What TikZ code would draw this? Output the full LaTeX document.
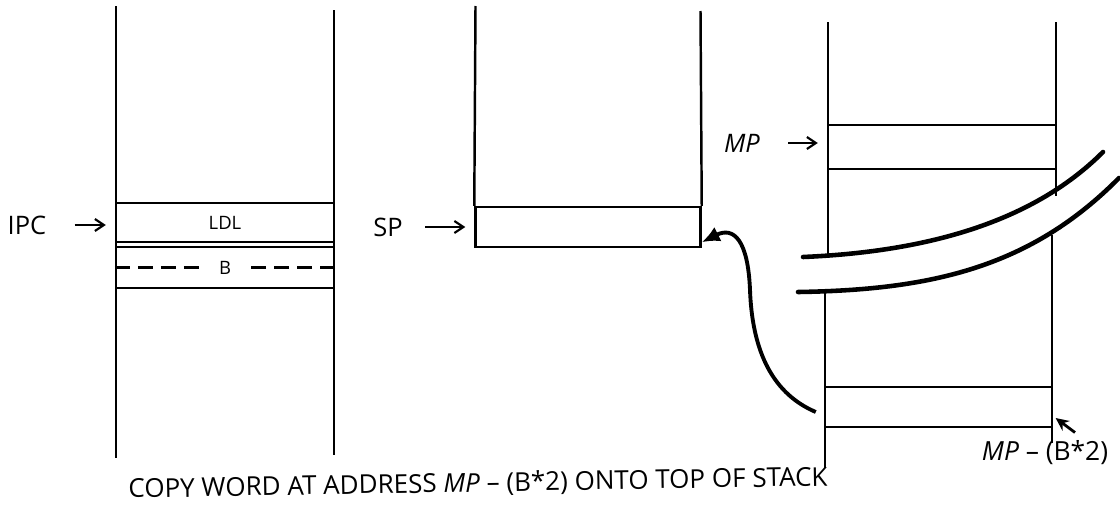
\documentclass[tikz,border=0pt]{standalone}
\usepackage{fontspec}
\setmainfont{Open Sans}
\usetikzlibrary{arrows.meta, positioning}

\begin{document}
\begin{tikzpicture}[
                x=0.2mm, y=-0.2mm,
                wall/.style={line width=1.4pt},
                cell/.style={rectangle, draw, line width=1.4pt, inner sep=0pt, font=\fontsize{10.5}{12}\selectfont},
                tag/.style={inner sep=0pt, font=\fontsize{14.5}{17}\selectfont},
                ptr/.style={line width=1.2pt, -{Straight Barb[length=1.8mm, width=2.4mm]}, shorten >=1.8mm},
                dashline/.style={line width=1.6pt, dash pattern=on 3mm off 1.6mm},
                brk/.style={line width=2.6pt, line cap=round},
                bigarrow/.style={line width=2.2pt, -{Latex[length=3.6mm, width=3.2mm]}}
            ]
                \useasboundingbox (0,0) rectangle (1120,513);

                % first column
                \draw [wall] (116,6) -- (116,458);
                \draw [wall] (334,10) -- (334,455);
                \node (ldl) [cell, minimum width=43.6mm, minimum height=7.8mm] at (225,222.5) {LDL};
                \node (bcell) [cell, minimum width=43.6mm, minimum height=8.2mm] at (225,267.5) {};
                \node (b) [cell, draw=none, inner xsep=3.2mm] at (bcell) {B};
                \draw [dashline] (bcell.west) -- (b.west);
                \draw [dashline] (bcell.east) -- (b.east);
                \node (ipc) [tag] at (27,225) {IPC};
                \draw [ptr, shorten <=5.6mm] (ipc.east) -- (ipc.east -| ldl.west);

                % second column
                \node (sp) [cell, minimum width=45mm, minimum height=8mm] at (588,227) {};
                \draw [wall] (475.5,6) -- (sp.north west);
                \draw [wall] (700.5,11) -- (sp.north east);
                \node (splbl) [tag] at (388,227) {SP};
                \draw [ptr, shorten <=4.4mm] (splbl.east) -- (splbl.east -| sp.west);

                % third column, broken
                \draw [wall] (828,22) -- (828,256);
                \draw [wall] (825,291) -- (825,468);
                \draw [wall] (1056,22) -- (1056,196);
                \draw [wall] (1052,235) -- (1052,443);
                \draw [brk] (803,257) .. controls (920,252) and (1030,225) .. (1103,152);
                \draw [brk] (798,292) .. controls (930,290) and (1030,268) .. (1119,178);
                \node (mp) [cell, minimum width=45.6mm, minimum height=8.8mm] at (942,147) {};
                \node (mpb) [cell, minimum width=45.4mm, minimum height=8mm] at (938.5,407) {};
                \node (mplbl) [tag] at (742,143) {\itshape MP};
                \draw [ptr, shorten <=5.6mm] (mplbl.east) -- (mplbl.east -| mp.west);
                \node (mpblbl) [tag, font=\fontsize{15}{17}\selectfont] at (1045,453) {\textit{MP} – (B*2)};
                \draw [line width=1.6pt, -{Stealth[length=2.6mm, width=2.4mm]}, shorten >=0.6mm] ([xshift=6mm, yshift=1.6mm]mpblbl.north) -- ([yshift=2.4mm]mpb.south east);

                % copy path
                \coordinate (turn) at (750,290);
                \draw [bigarrow] ([xshift=-1.6mm, yshift=-1mm]mpb.west) .. controls +(-47,-20) and +(2,55) .. (turn)
                    .. controls +(-2,-50) and +(32,-16) .. ([yshift=1.2mm]sp.south east);

                \node (caption) [tag, font=\fontsize{14.8}{18}\selectfont, rotate=1] at (478,484) {COPY WORD AT ADDRESS \textit{MP} – (B*2) ONTO TOP OF STACK};
            \end{tikzpicture}
\end{document}
